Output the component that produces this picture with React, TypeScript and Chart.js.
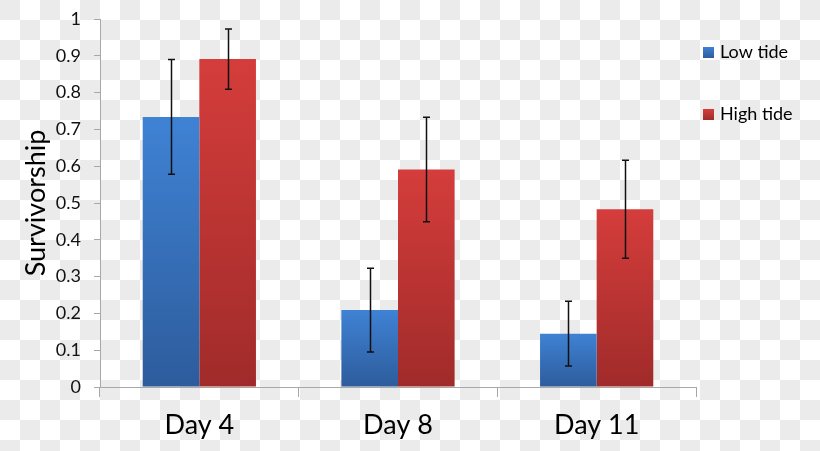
import React, { useEffect, useRef } from "react";
import { Chart, registerables } from "chart.js";

Chart.register(...registerables);

const categories = ["Day 4", "Day 8", "Day 11"];
const seriesNames = ["Low tide", "High tide"];
const lowTide = [0.734, 0.209, 0.145];
const highTide = [0.891, 0.591, 0.483];
const lowTideErr = [0.156, 0.114, 0.088];
const highTideErr = [0.082, 0.142, 0.133];
const yTicksMin = 0;
const yTicksMax = 1;
const yTicksStep = 0.1;
const yTitle = "Survivorship";

const FONT = "Lato, 'Open Sans', sans-serif";
const blueTop = "#3f82d4";
const blueBottom = "#2d5c9c";
const redTop = "#d43d3b";
const redBottom = "#a02b2a";

function barGradient(top: string, bottom: string) {
  return (ctx: any) => {
    const chart = ctx.chart;
    const scales = chart.scales;
    if (!chart.chartArea || !scales || !scales.y || ctx.parsed == null) return top;
    const y0 = scales.y.getPixelForValue(ctx.parsed.y);
    const y1 = scales.y.getPixelForValue(0);
    if (!isFinite(y0) || !isFinite(y1) || y0 === y1) return top;
    const g = chart.ctx.createLinearGradient(0, y0, 0, y1);
    g.addColorStop(0, top);
    g.addColorStop(1, bottom);
    return g;
  };
}

const errorBarsPlugin = {
  id: "errorBars",
  afterDatasetsDraw(chart: any) {
    const errs = [lowTideErr, highTideErr];
    const vals = [lowTide, highTide];
    const y = chart.scales.y;
    const c = chart.ctx;
    c.save();
    c.strokeStyle = "#111";
    c.lineWidth = 1.5;
    chart.data.datasets.forEach((_: any, di: number) => {
      const meta = chart.getDatasetMeta(di);
      meta.data.forEach((bar: any, i: number) => {
        const v = vals[di][i];
        const e = errs[di][i];
        const x = Math.round(bar.x) + 0.5;
        const yt = y.getPixelForValue(v + e);
        const yb = y.getPixelForValue(v - e);
        c.beginPath();
        c.moveTo(x, yt);
        c.lineTo(x, yb);
        c.moveTo(x - 3.5, yt);
        c.lineTo(x + 3.5, yt);
        c.moveTo(x - 3.5, yb);
        c.lineTo(x + 3.5, yb);
        c.stroke();
      });
    });
    c.restore();
  },
};

const legendPlugin = {
  id: "customLegend",
  afterDraw(chart: any) {
    const c = chart.ctx;
    const colors = [
      [blueTop, blueBottom],
      [redTop, redBottom],
    ];
    const rowsY = [52, 114];
    c.save();
    c.font = `18px ${FONT}`;
    c.textBaseline = "middle";
    c.fillStyle = "#000";
    seriesNames.forEach((name, i) => {
      const cy = rowsY[i];
      const g = c.createLinearGradient(0, cy - 5, 0, cy + 6);
      g.addColorStop(0, colors[i][0]);
      g.addColorStop(1, colors[i][1]);
      c.fillStyle = g;
      c.fillRect(703, cy - 5, 11, 11);
      c.fillStyle = "#000";
      c.fillText(name, 720, cy);
    });
    c.restore();
  },
};

export default function App() {
  const ref = useRef<HTMLCanvasElement | null>(null);
  useEffect(() => {
    document.body.style.margin = "0";
    const canvas = ref.current!;
    const chart = new Chart(canvas, {
      type: "bar",
      data: {
        labels: categories,
        datasets: [
          {
            label: seriesNames[0],
            data: lowTide,
            backgroundColor: barGradient(blueTop, blueBottom),
            borderWidth: 0,
            categoryPercentage: 0.57,
            barPercentage: 1,
          },
          {
            label: seriesNames[1],
            data: highTide,
            backgroundColor: barGradient(redTop, redBottom),
            borderWidth: 0,
            categoryPercentage: 0.57,
            barPercentage: 1,
          },
        ],
      },
      options: {
        animation: false,
        responsive: false,
        devicePixelRatio: 1,
        layout: { padding: { left: 0, right: 124, top: 19, bottom: 0 } },
        plugins: {
          legend: { display: false },
          tooltip: { enabled: false },
        },
        scales: {
          x: {
            grid: {
              offset: true,
              drawOnChartArea: false,
              drawTicks: true,
              tickLength: 10,
              color: "#a8a8a8",
            },
            border: { color: "#a8a8a8", width: 1 },
            ticks: {
              color: "#000",
              font: { family: FONT, size: 27 },
              padding: 12,
            },
            afterFit(scale: any) {
              scale.height = 64;
              scale.paddingLeft = 0;
              scale.paddingRight = 0;
            },
          },
          y: {
            min: yTicksMin,
            max: yTicksMax,
            ticks: {
              stepSize: yTicksStep,
              color: "#111",
              font: { family: FONT, size: 18 },
              padding: 13,
              callback: (v: any) => String(Number(Number(v).toFixed(1))),
            },
            grid: {
              drawOnChartArea: false,
              drawTicks: true,
              tickLength: 6,
              color: "#a8a8a8",
            },
            border: { color: "#a8a8a8", width: 1 },
            title: {
              display: true,
              text: yTitle,
              color: "#000",
              font: { family: FONT, size: 27 },
              padding: { top: 20, bottom: 0 },
            },
            afterFit(scale: any) {
              scale.width = 100;
              scale.paddingTop = 0;
              scale.paddingBottom = 0;
            },
          },
        },
      },
      plugins: [errorBarsPlugin, legendPlugin],
    });
    return () => chart.destroy();
  }, []);
  return (
    <div
      style={{
        position: "absolute",
        left: 0,
        top: 0,
        width: 820,
        height: 451,
        background:
          "repeating-conic-gradient(#ffffff 0% 25%, #ebebeb 0% 50%) 0 0 / 40px 40px",
      }}
    >
      <canvas ref={ref} width={820} height={451} style={{ display: "block" }} />
    </div>
  );
}
